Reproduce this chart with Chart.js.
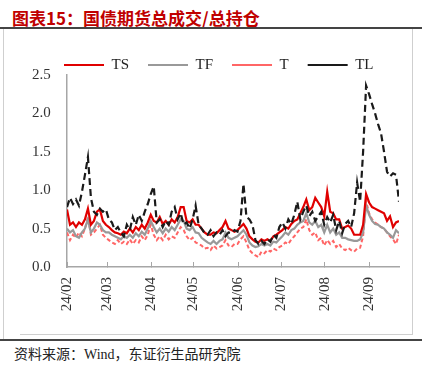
<!DOCTYPE html>
<html>
<head>
<meta charset="utf-8">
<script src="https://cdn.jsdelivr.net/npm/chart.js@4.4.1/dist/chart.umd.min.js"></script>
<style>
  body { margin: 0; background: #fff; }
  #wrap { position: relative; width: 426px; height: 369px; overflow: hidden; background: #fff; }
  .title { position: absolute; left: 12px; top: 5px; font: bold 17px "Noto Sans CJK SC", sans-serif; color: #c00000; white-space: nowrap; }
  .source { position: absolute; left: 14px; top: 343px; font: 14px "Liberation Serif", "Noto Sans CJK SC", serif; color: #222; white-space: nowrap; }
  .rule { position: absolute; background: #444; }
  .frame { position: absolute; background: #cfcfcf; }
  #box { position: absolute; left: 4px; top: 30px; width: 406px; height: 303px; }
</style>
</head>
<body>
<div id="wrap">
  <div class="title">图表15：国债期货总成交/总持仓</div>
  <div class="rule" style="left:0;top:27px;width:422px;height:1.5px"></div>
  <div class="frame" style="left:3px;top:29px;width:1px;height:310px"></div>
  <div class="frame" style="left:412px;top:29px;width:1px;height:305px"></div>
  <div class="frame" style="left:20px;top:334px;width:393px;height:1px"></div>
  <div class="rule" style="left:0;top:339px;width:422px;height:1.5px"></div>
  <div id="box"><canvas id="chart"></canvas></div>
  <div class="source">资料来源：Wind，东证衍生品研究院</div>
</div>
<script>
// trading-day index along the x axis
const dayIndex = Array.from({ length: 112 }, (_, i) => i);

// month ticks (position on the day index) and their labels
const monthTickPos = [0, 13.4, 28.2, 42.3, 57.2, 71.6, 86.2, 101];
const monthLabels = ['24/02', '24/03', '24/04', '24/05', '24/06', '24/07', '24/08', '24/09'];

const tsValues = [
  0.75,0.55,0.58,0.52,0.58,0.55,0.62,0.76,0.55,0.6,
  0.72,0.75,0.6,0.55,0.52,0.48,0.45,0.44,0.42,0.46,
  0.44,0.5,0.45,0.52,0.48,0.55,0.5,0.58,0.68,0.6,
  0.58,0.65,0.56,0.6,0.55,0.62,0.58,0.65,0.78,0.78,
  0.6,0.58,0.62,0.55,0.55,0.5,0.45,0.42,0.42,0.45,
  0.44,0.48,0.52,0.6,0.5,0.48,0.46,0.48,0.52,0.56,
  0.5,0.4,0.36,0.33,0.32,0.36,0.34,0.36,0.34,0.4,
  0.42,0.45,0.48,0.52,0.5,0.56,0.6,0.62,0.7,0.78,
  0.88,0.74,0.78,0.9,0.84,0.78,0.66,0.98,0.72,0.7,
  0.62,0.62,0.5,0.52,0.54,0.5,0.42,0.42,0.42,0.55,
  0.95,0.84,0.78,0.76,0.74,0.72,0.7,0.6,0.66,0.52,
  0.58,0.6
];

const tfValues = [
  0.5,0.45,0.48,0.4,0.38,0.45,0.5,0.62,0.45,0.5,
  0.58,0.55,0.48,0.45,0.45,0.42,0.4,0.38,0.36,0.4,
  0.38,0.42,0.38,0.44,0.4,0.46,0.42,0.5,0.6,0.52,
  0.45,0.5,0.44,0.5,0.46,0.52,0.48,0.55,0.62,0.6,
  0.5,0.48,0.52,0.45,0.44,0.38,0.35,0.32,0.3,0.34,
  0.3,0.34,0.36,0.45,0.38,0.36,0.38,0.4,0.44,0.48,
  0.42,0.32,0.28,0.26,0.27,0.3,0.28,0.3,0.28,0.33,
  0.32,0.36,0.4,0.45,0.42,0.48,0.5,0.55,0.58,0.6,
  0.7,0.58,0.55,0.6,0.52,0.55,0.45,0.55,0.45,0.5,
  0.42,0.45,0.38,0.38,0.36,0.35,0.34,0.34,0.36,0.45,
  0.8,0.68,0.6,0.56,0.55,0.52,0.5,0.45,0.42,0.38,
  0.48,0.44
];

const tValues = [
  0.45,0.35,0.42,0.38,0.45,0.4,0.5,0.65,0.42,0.45,
  0.5,0.55,0.42,0.38,0.35,0.32,0.3,0.35,0.3,0.33,
  0.3,0.36,0.3,0.35,0.32,0.4,0.35,0.42,0.55,0.42,
  0.35,0.4,0.35,0.42,0.36,0.4,0.38,0.45,0.52,0.48,
  0.4,0.35,0.38,0.32,0.3,0.28,0.24,0.25,0.22,0.28,
  0.24,0.26,0.28,0.35,0.28,0.26,0.3,0.3,0.36,0.4,
  0.32,0.22,0.18,0.15,0.13,0.2,0.18,0.22,0.2,0.24,
  0.22,0.26,0.28,0.32,0.3,0.36,0.4,0.45,0.5,0.52,
  0.62,0.48,0.42,0.45,0.35,0.38,0.28,0.35,0.3,0.34,
  0.26,0.3,0.24,0.22,0.25,0.22,0.2,0.24,0.25,0.4,
  0.86,0.7,0.62,0.58,0.55,0.52,0.5,0.45,0.4,0.36,
  0.3,0.42
];

const tlValues = [
  0.78,0.9,0.82,0.88,0.8,0.98,1.2,1.43,0.9,0.72,
  0.68,0.76,0.72,0.75,0.62,0.58,0.48,0.52,0.45,0.4,
  0.55,0.48,0.65,0.55,0.68,0.6,0.72,0.82,0.95,1.05,
  0.58,0.62,0.52,0.6,0.55,0.72,0.78,0.62,0.7,0.55,
  0.58,0.5,0.62,0.8,0.55,0.5,0.44,0.42,0.48,0.4,
  0.45,0.42,0.48,0.4,0.45,0.44,0.48,0.46,0.6,1.08,
  0.65,0.62,0.55,0.35,0.3,0.34,0.3,0.36,0.33,0.42,
  0.38,0.52,0.58,0.5,0.62,0.56,0.68,0.85,0.62,0.72,
  0.8,0.66,0.72,0.6,0.66,0.72,0.55,0.65,0.58,0.68,
  0.48,0.6,0.44,0.56,0.6,0.52,0.7,1.1,0.85,1.5,
  2.36,2.25,2.12,2.0,1.86,1.74,1.5,1.24,1.18,1.22,
  1.2,0.85
];

const serif = '"Liberation Serif", "Times New Roman", serif';

function line(label, data, color, width, dash, order) {
    return {
        label: label,
        data: data,
        borderColor: color,
        backgroundColor: color,
        borderWidth: width,
        borderDash: dash,
        pointRadius: 0,
        tension: 0,
        order: order
    };
}

new Chart(document.getElementById('chart'), {
    type: 'line',
    data: {
        labels: dayIndex,
        datasets: [
            line('TS', tsValues, '#e00000', 2.2, [], 1),
            line('TF', tfValues, '#999999', 2.2, [], 2),
            line('T', tValues, '#ff6666', 2, [4, 2.5], 3),
            line('TL', tlValues, '#1a1a1a', 2.2, [7, 4], 0)
        ]
    },
    options: {
        responsive: true,
        maintainAspectRatio: false,
        animation: false,
        layout: {
            padding: { left: 41, right: 11, top: 8.5, bottom: 0 }
        },
        plugins: {
            tooltip: { enabled: false },
            legend: {
                position: 'top',
                align: 'start',
                maxHeight: 36.5,
                labels: {
                    usePointStyle: true,
                    pointStyle: 'line',
                    pointStyleWidth: 40,
                    padding: 19,
                    color: '#222',
                    font: { family: serif, size: 15 },
                    sort: (a, b) => a.datasetIndex - b.datasetIndex
                }
            }
        },
        scales: {
            x: {
                type: 'linear',
                min: 0,
                max: 111,
                afterBuildTicks: (scale) => {
                    scale.ticks = monthTickPos.map(v => ({ value: v }));
                },
                afterFit: (scale) => { scale.height = 66; },
                border: { display: true, color: '#a6a6a6', width: 1.5 },
                grid: { drawOnChartArea: false, color: '#a6a6a6', tickLength: -5 },
                ticks: {
                    autoSkip: false,
                    minRotation: 90,
                    maxRotation: 90,
                    padding: 15,
                    color: '#333',
                    font: { family: serif, size: 15 },
                    callback: (value, index) => monthLabels[index]
                }
            },
            y: {
                min: 0,
                max: 2.5,
                afterFit: (scale) => { scale.width = 22; },
                border: { display: true, color: '#a6a6a6', width: 1.5 },
                grid: { display: false },
                ticks: {
                    stepSize: 0.5,
                    // labels sit left of the axis; mirror keeps them out of the narrow label clip
                    mirror: true,
                    padding: -35,
                    color: '#333',
                    font: { family: serif, size: 15 },
                    callback: (value) => value.toFixed(1)
                }
            }
        }
    }
});
</script>
</body>
</html>
